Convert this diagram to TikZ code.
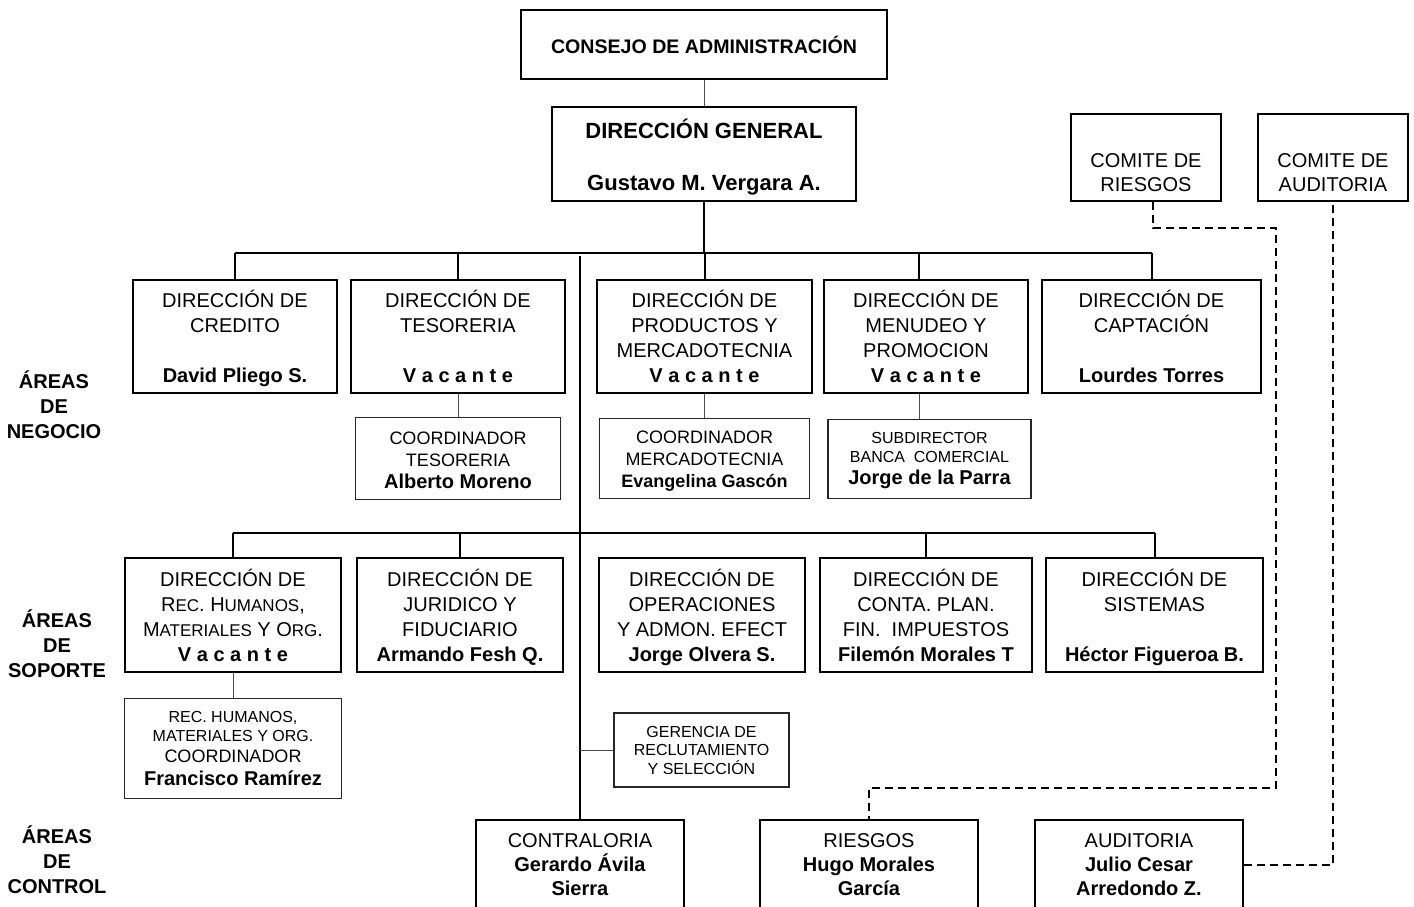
\documentclass[tikz,border=0pt]{standalone}
\usepackage{fontspec}
\setmainfont{Liberation Sans}
\usepackage{tikz}
\usetikzlibrary{positioning}

\newcommand{\vac}{\textbf{V a c a n t e}}
\newcommand{\nm}[1]{{\bfseries\fontsize{10}{12}\selectfont #1}}
\newcommand{\smc}[1]{{\fontsize{8.5}{10}\selectfont #1}}
\newcommand{\tp}{\rule{0pt}{11pt}}
\newcommand{\bt}{\rule[-2.2pt]{0pt}{2.2pt}}

\begin{document}
\begin{tikzpicture}[x=0.5pt,y=-0.5pt,
		dirbox/.style={draw,line width=0.75pt,inner sep=0pt,align=center,font=\fontsize{10}{12.5}\selectfont,minimum height=56.5pt},
		subbox/.style={draw=black!85,line width=0.6pt,inner sep=0pt,align=center,font=\fontsize{9}{11}\selectfont},
		areatxt/.style={align=center,font=\bfseries\fontsize{10}{12.5}\selectfont},
		mainline/.style={line width=1pt},
		thinline/.style={line width=0.5pt,black!70},
		dashline/.style={line width=0.8pt,dash pattern=on 4pt off 2.5pt}] 
		\useasboundingbox (0,0) rectangle (1414,906);
		% top
		\node[dirbox,minimum width=183pt,minimum height=34.5pt,font=\bfseries\fontsize{9.8}{12}\selectfont] (consejo) at (704,44.5) {CONSEJO DE ADMINISTRACIÓN};
		\node[dirbox,minimum width=152pt,minimum height=47pt,font=\bfseries\fontsize{11}{13}\selectfont] (dg) at (704,154) {\rule{0pt}{12.5pt}DIRECCIÓN GENERAL\\[13pt]Gustavo M. Vergara A.};
		\node[dirbox,minimum width=75pt,minimum height=43.5pt,font=\fontsize{10}{12}\selectfont] (com_ries) at (1146,157.5) {\rule{0pt}{22pt}COMITE DE\\RIESGOS};
		\node[dirbox,minimum width=75pt,minimum height=43.5pt,font=\fontsize{10}{12}\selectfont] (com_aud) at (1333,157.5) {\rule{0pt}{22pt}COMITE DE\\AUDITORIA};
		
		% areas de negocio
		\node[dirbox,minimum width=102pt] (d_cred) at (235,336.5) {\tp DIRECCIÓN DE\\CREDITO\\[12.5pt]\textbf{David Pliego S.}\bt};
		\node[dirbox,minimum width=107pt] (d_tes) at (458,336.5) {\tp DIRECCIÓN DE\\TESORERIA\\[12.5pt]\vac\bt};
		\node[dirbox,minimum width=107.5pt] (d_prod) at (704.5,336.5) {\tp DIRECCIÓN DE\\PRODUCTOS Y\\MERCADOTECNIA\\\vac\bt};
		\node[dirbox,minimum width=102pt] (d_men) at (926,336.5) {\tp DIRECCIÓN DE\\MENUDEO Y\\PROMOCION\\\vac\bt};
		\node[dirbox,minimum width=109.5pt] (d_cap) at (1151.5,336.5) {\tp DIRECCIÓN DE\\CAPTACIÓN\\[12.5pt]\textbf{Lourdes Torres}\bt};
		
		\node[subbox,minimum width=102.5pt,minimum height=41pt] (c_tes) [below=11.5pt of d_tes] {\rule{0pt}{7.9pt}COORDINADOR\\TESORERIA\\\nm{Alberto Moreno}};
		\node[subbox,minimum width=105pt,minimum height=40pt] (c_mer) [below=12pt of d_prod] {\rule{0pt}{9.4pt}COORDINADOR\\MERCADOTECNIA\\\textbf{Evangelina Gascón}};
		\node[subbox,minimum width=101.5pt,minimum height=39.5pt] (s_ban) [below=12.5pt of d_men,xshift=1.75pt] {{\fontsize{8}{9}\selectfont\rule{0pt}{7.2pt}SUBDIRECTOR}\\[-1.3pt]{\fontsize{8}{9}\selectfont BANCA\ \ COMERCIAL}\\\nm{Jorge de la Parra}};
		
		% areas de soporte
		\node[dirbox,minimum width=108pt,minimum height=57pt] (d_rec) at (233,615) {\tp DIRECCIÓN DE\\R\smc{EC}. H\smc{UMANOS},\\M\smc{ATERIALES} Y O\smc{RG}.\\\vac\bt};
		\node[dirbox,minimum width=103pt,minimum height=57pt] (d_jur) at (460,615) {\tp DIRECCIÓN DE\\JURIDICO Y\\FIDUCIARIO\\\textbf{Armando Fesh Q.}\bt};
		\node[dirbox,minimum width=103pt,minimum height=57pt] (d_ope) at (702,615) {\tp DIRECCIÓN DE\\OPERACIONES\\Y ADMON. EFECT\\\textbf{Jorge Olvera S.}\bt};
		\node[dirbox,minimum width=106pt,minimum height=57pt] (d_con) at (926,615) {\tp DIRECCIÓN DE\\CONTA. PLAN.\\FIN.\ \ IMPUESTOS\\\textbf{Filemón Morales T}\bt};
		\node[dirbox,minimum width=108.5pt,minimum height=57pt] (d_sis) at (1154.5,615) {\tp DIRECCIÓN DE\\SISTEMAS\\[12.5pt]\textbf{Héctor Figueroa B.}\bt};
		
		\node[subbox,minimum width=108.5pt,minimum height=50pt,font=\fontsize{8}{10}\selectfont] (c_rec) [below=12.5pt of d_rec] {REC. HUMANOS,\\[-0.5pt]MATERIALES Y ORG.\\[0.5pt]{\fontsize{9}{10}\selectfont COORDINADOR}\\[1.5pt]\nm{Francisco Ramírez}};
		\node[subbox,minimum width=87.5pt,minimum height=37pt,font=\fontsize{8}{9.25}\selectfont] (g_rec) at (701.5,750) {GERENCIA DE\\RECLUTAMIENTO\\Y SELECCIÓN};
		
		% areas de control
		\node[dirbox,minimum width=104pt,minimum height=45pt,font=\fontsize{10}{12}\selectfont] (contra) at (580,865) {CONTRALORIA\\\textbf{Gerardo Ávila}\\\textbf{Sierra}};
		\node[dirbox,minimum width=109pt,minimum height=45pt,font=\fontsize{10}{12}\selectfont] (ries) at (869,865) {RIESGOS\\\textbf{Hugo Morales}\\\textbf{García}};
		\node[dirbox,minimum width=104pt,minimum height=45pt,font=\fontsize{10}{12}\selectfont] (aud) at (1139,865) {AUDITORIA\\\textbf{Julio Cesar}\\\textbf{Arredondo Z.}};
		
		\node[areatxt] (a_neg) at (54,405) {ÁREAS\\DE\\NEGOCIO};
		\node[areatxt] (a_sop) at (57,644) {ÁREAS\\DE\\SOPORTE};
		\node[areatxt] (a_con) at (57,860) {ÁREAS\\DE\\CONTROL};
		
		\coordinate (bus1) at (0,252.7);
		\coordinate (bus2) at (0,533);
		\coordinate (spine) at (0,256);
		\coordinate (r_turn) at (1276,228);
		\coordinate (r_low) at (1276,788);
		\coordinate (m_drop) at (919,0);
		
		\draw[thinline] (consejo) -- (dg);
		\draw[mainline] (dg.south) -- (dg.south |- bus1);
		\draw[mainline] (d_cred.north |- bus1) -- (d_cap.north |- bus1);
		\foreach \d in {d_cred,d_tes,d_prod,d_cap}
			\draw[mainline] (\d.north |- bus1) -- (\d.north);
		\draw[mainline] (m_drop |- bus1) -- (m_drop |- d_men.north);
		\draw[mainline] (contra.north) -- (contra.north |- spine);
		\draw[mainline] (d_rec.north |- bus2) -- (d_sis.north |- bus2);
		\foreach \d in {d_rec,d_jur,d_con,d_sis}
			\draw[mainline] (\d.north |- bus2) -- (\d.north);
		\path[thinline] 
		(d_tes) edge (c_tes)
		(d_prod) edge (c_mer)
		(m_drop |- d_men.south) edge (m_drop |- s_ban.north)
		(d_rec) edge (c_rec)
		(g_rec.west) edge (g_rec.west -| contra.north);
		\draw[dashline] ([xshift=3.5pt]com_ries.south) |- (r_turn) -- (r_low) -| (ries.north);
		\draw[dashline] (aud.east) -| (com_aud.south);
	\end{tikzpicture}
\end{document}
